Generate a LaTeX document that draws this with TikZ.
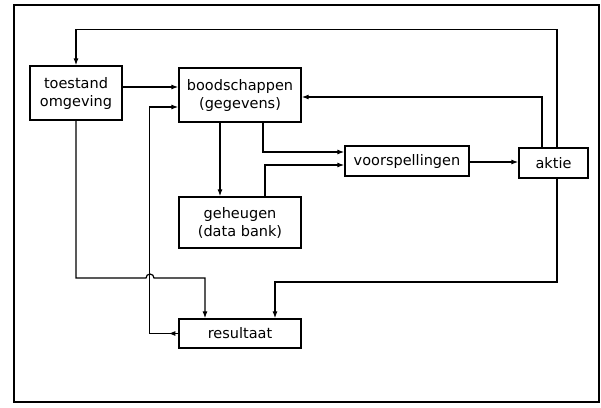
\documentclass[tikz,border=0pt]{standalone}
\usepackage{fontspec}
\setmainfont{DejaVu Sans}
\usetikzlibrary{arrows.meta}

\begin{document}
\begin{tikzpicture}[x=1pt, y=-1pt,
  blok/.style={draw, line width=1.3pt, inner sep=0pt, align=center,
    font=\fontsize{14.5}{18}\selectfont},
  pijl/.style={line width=1.2pt, -{Latex[length=7pt, width=5pt]}},
  lijn/.style={line width=1.2pt}]
\useasboundingbox (0,0) rectangle (601,407);
\draw[line width=1.5pt] (14,5) rectangle (599,402);
\node[blok, minimum width=92pt, minimum height=54pt] (toestand) at (76,93) {toestand\\omgeving};
\node[blok, minimum width=122pt, minimum height=54pt] (bood) at (240,95) {boodschappen\\(gegevens)};
\node[blok, minimum width=122pt, minimum height=51pt] (geh) at (240,222.5) {geheugen\\(data bank)};
\node[blok, minimum width=124pt, minimum height=30pt] (voor) at (407,161) {voorspellingen};
\node[blok, minimum width=69pt, minimum height=30pt] (aktie) at (553.5,163) {aktie};
\node[blok, minimum width=122pt, minimum height=29pt] (res) at (240,333.5) {resultaat};
% terugkoppeling vanuit aktie
\draw[pijl] ([xshift=3.5pt]aktie.north) -- ++(0,-118) -| (toestand.north);
\draw[pijl] ([xshift=-11.5pt]aktie.north) |- ([yshift=-2pt]bood.east);
\draw[pijl] ([yshift=6pt]toestand.east) -- ([yshift=8pt]bood.west);
% resultaat terug naar boodschappen
\draw[pijl] (res.west) -- ++(-10,0);
\draw[pijl] (res.west) -- ++(-29,0) |- ([yshift=-12pt]bood.west);
% naar resultaat
\draw[pijl] (toestand.south) |- (146,278) arc (180:360:4) -- (205,278) -- ([xshift=-35pt]res.north);
\draw[pijl] ([xshift=3.5pt]aktie.south) |- (275,282) -- ([xshift=35pt]res.north);
% geheugen en voorspellingen
\draw[pijl] ([xshift=-20pt]bood.south) -- ([xshift=-20pt]geh.north);
\draw[pijl] ([xshift=23pt]bood.south) |- ([yshift=9pt]voor.west);
\draw[pijl] ([xshift=25pt]geh.north) |- ([yshift=-4pt]voor.west);
\draw[pijl] ([yshift=-1pt]voor.east) -- ([yshift=1pt]aktie.west);
\end{tikzpicture}
\end{document}
